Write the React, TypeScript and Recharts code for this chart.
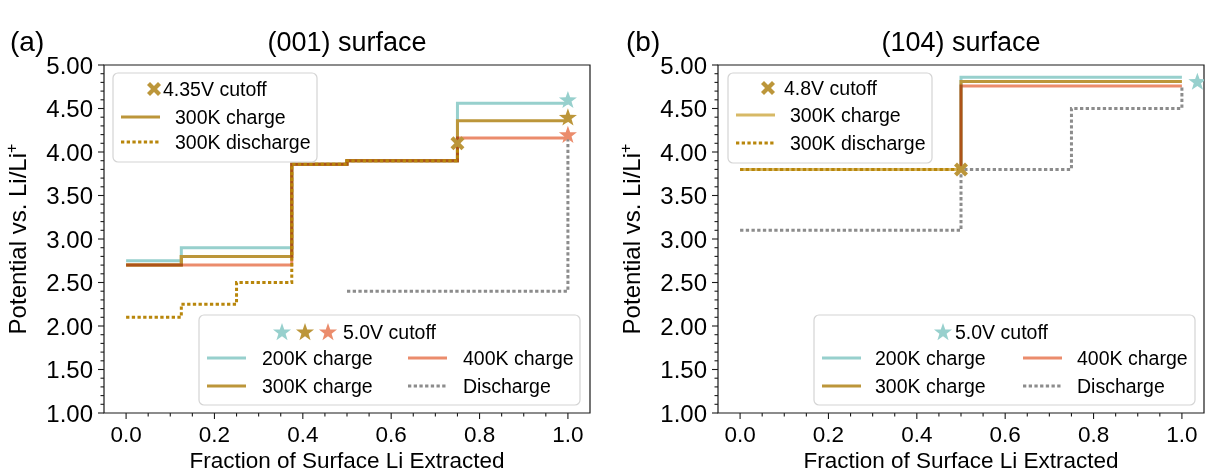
import { ComposedChart, Line, Scatter, XAxis, YAxis, ReferenceArea } from 'recharts';

// colours picked off the figure
const TEAL = '#97D0CD';
const GOLD = '#BC963A';
const SALMON = '#EB8C6C';
const DARK_GOLD = '#B8860B';
const LIGHT_GOLD = '#D7B966';
const GREY = '#8C8C8C';
const FONT = "'Liberation Sans', Arial, Helvetica, sans-serif";

// axis ticks (major ones get labels)
const xTicks = [0, 0.05, 0.1, 0.15, 0.2, 0.25, 0.3, 0.35, 0.4, 0.45, 0.5, 0.55, 0.6, 0.65, 0.7, 0.75, 0.8, 0.85, 0.9, 0.95, 1.0];
const xMajor = [0, 0.2, 0.4, 0.6, 0.8, 1.0];
const yTicks = [
  1.0, 1.1, 1.2, 1.3, 1.4, 1.5, 1.6, 1.7, 1.8, 1.9, 2.0, 2.1, 2.2, 2.3, 2.4, 2.5, 2.6, 2.7, 2.8, 2.9, 3.0,
  3.1, 3.2, 3.3, 3.4, 3.5, 3.6, 3.7, 3.8, 3.9, 4.0, 4.1, 4.2, 4.3, 4.4, 4.5, 4.6, 4.7, 4.8, 4.9, 5.0,
];
const yMajor = [1.0, 1.5, 2.0, 2.5, 3.0, 3.5, 4.0, 4.5, 5.0];

type Pt = { x: number; y: number };

// (001) surface, step points (value holds until the next x)
const charge200K_001: Pt[] = [{ x: 0, y: 2.75 }, { x: 0.125, y: 2.9 }, { x: 0.375, y: 3.86 }, { x: 0.5, y: 3.9 }, { x: 0.75, y: 4.56 }, { x: 1.0, y: 4.56 }];
const charge300K_001: Pt[] = [{ x: 0, y: 2.7 }, { x: 0.125, y: 2.8 }, { x: 0.375, y: 3.86 }, { x: 0.5, y: 3.9 }, { x: 0.75, y: 4.36 }, { x: 1.0, y: 4.36 }];
const charge400K_001: Pt[] = [{ x: 0, y: 2.7 }, { x: 0.375, y: 3.86 }, { x: 0.5, y: 3.9 }, { x: 0.75, y: 4.16 }, { x: 1.0, y: 4.16 }];
const cut435Charge_001: Pt[] = [{ x: 0, y: 2.7 }, { x: 0.125, y: 2.8 }, { x: 0.375, y: 3.86 }, { x: 0.5, y: 3.9 }, { x: 0.75, y: 4.1 }];
const cut435Discharge_001: Pt[] = [{ x: 0, y: 2.1 }, { x: 0.125, y: 2.25 }, { x: 0.25, y: 2.5 }, { x: 0.375, y: 3.86 }, { x: 0.5, y: 3.9 }, { x: 0.75, y: 4.1 }];
const discharge_001: Pt[] = [{ x: 0.5, y: 2.4 }, { x: 1.0, y: 4.15 }];
const star200K_001: Pt[] = [{ x: 1.0, y: 4.61 }];
const star300K_001: Pt[] = [{ x: 1.0, y: 4.41 }];
const star400K_001: Pt[] = [{ x: 1.0, y: 4.21 }];
const cross_001: Pt[] = [{ x: 0.75, y: 4.1 }];

// (104) surface
const charge200K_104: Pt[] = [{ x: 0, y: 3.8 }, { x: 0.5, y: 4.86 }, { x: 1.0, y: 4.86 }];
const charge300K_104: Pt[] = [{ x: 0, y: 3.8 }, { x: 0.5, y: 4.81 }, { x: 1.0, y: 4.81 }];
const charge400K_104: Pt[] = [{ x: 0, y: 3.8 }, { x: 0.5, y: 4.76 }, { x: 1.0, y: 4.76 }];
const cut48Charge_104: Pt[] = [{ x: 0, y: 3.8 }, { x: 0.5, y: 3.8 }];
const cut48Discharge_104: Pt[] = [{ x: 0, y: 3.8 }, { x: 0.5, y: 3.8 }];
const discharge_104: Pt[] = [{ x: 0, y: 3.1 }, { x: 0.5, y: 3.8 }, { x: 0.75, y: 4.5 }, { x: 1.0, y: 4.76 }];
const star200K_104: Pt[] = [{ x: 1.035, y: 4.82 }];
const cross_104: Pt[] = [{ x: 0.5, y: 3.8 }];

const DOTS = '3.3 2.4';
const near = (v: number, list: number[]) => list.some((m) => Math.abs(m - v) < 1e-6);

const starPath = (cx: number, cy: number, r: number) => {
  const pts: string[] = [];
  for (let i = 0; i < 10; i++) {
    const rad = i % 2 === 0 ? r : r * 0.4;
    const a = -Math.PI / 2 + (i * Math.PI) / 5;
    pts.push(`${(cx + rad * Math.cos(a)).toFixed(2)},${(cy + rad * Math.sin(a)).toFixed(2)}`);
  }
  return `M${pts.join('L')}Z`;
};

const Star = ({ cx, cy, color }: { cx: number; cy: number; color: string }) => (
  <path d={starPath(cx, cy + 1.5, 9.5)} fill={color} />
);

const XMark = ({ cx, cy, color }: { cx: number; cy: number; color: string }) => (
  <g stroke={color} strokeWidth={4.2}>
    <line x1={cx - 5.5} y1={cy - 5.5} x2={cx + 5.5} y2={cy + 5.5} />
    <line x1={cx - 5.5} y1={cy + 5.5} x2={cx + 5.5} y2={cy - 5.5} />
  </g>
);

const XTick = (props: any) => {
  const { x, y, payload } = props;
  const major = near(payload.value, xMajor);
  return (
    <g>
      <line x1={x} x2={x} y1={y} y2={y + (major ? 6 : 3.5)} stroke="#1a1a1a" strokeWidth={1.1} />
      {major && (
        <text x={x} y={y + 29} textAnchor="middle" fontSize={22.5} fontFamily={FONT} fill="#000">
          {payload.value.toFixed(1)}
        </text>
      )}
    </g>
  );
};

const YTick = (props: any) => {
  const { x, y, payload } = props;
  const major = near(payload.value, yMajor);
  return (
    <g>
      <line x1={x} x2={x - (major ? 6 : 3.5)} y1={y} y2={y} stroke="#1a1a1a" strokeWidth={1.1} />
      {major && (
        <text x={x - 11} y={y + 8.5} textAnchor="end" fontSize={24} fontFamily={FONT} fill="#000">
          {payload.value.toFixed(2)}
        </text>
      )}
    </g>
  );
};

interface Series { data: Pt[]; color: string; dotted?: boolean; multiply?: boolean }
interface Marker { data: Pt[]; color: string; kind: 'star' | 'x' }

const Panel = ({ left, width, right, series, markers }: { left: number; width: number; right: number; series: Series[]; markers: Marker[] }) => (
  <div style={{ position: 'absolute', left, top: 0 }}>
    <ComposedChart width={width} height={473} margin={{ top: 65, right, left: 0, bottom: 0 }}>
      <XAxis
        type="number"
        dataKey="x"
        domain={[-0.05, 1.05]}
        ticks={xTicks}
        interval={0}
        tick={<XTick />}
        tickLine={false}
        axisLine={false}
        tickSize={0}
        tickMargin={0}
        height={60}
        allowDataOverflow
      />
      <YAxis
        type="number"
        dataKey="y"
        domain={[1, 5]}
        ticks={yTicks}
        interval={0}
        tick={<YTick />}
        tickLine={false}
        axisLine={false}
        tickSize={0}
        tickMargin={0}
        width={104}
        allowDataOverflow
      />
      <ReferenceArea x1={-0.05} x2={1.05} y1={1} y2={5} fill="none" fillOpacity={0} stroke="#1a1a1a" strokeWidth={1.2} />
      {series.map((s, i) => (
        <Line
          key={i}
          data={s.data}
          dataKey="y"
          type="stepAfter"
          stroke={s.color}
          strokeWidth={3}
          strokeDasharray={s.dotted ? DOTS : undefined}
          dot={false}
          activeDot={false}
          className={s.multiply ? 'mul' : undefined}
          isAnimationActive={false}
        />
      ))}
      {markers.map((m, i) => (
        <Scatter
          key={`m${i}`}
          data={m.data}
          isAnimationActive={false}
          shape={(p: any) =>
            m.kind === 'star' ? <Star cx={p.cx} cy={p.cy} color={m.color} /> : <XMark cx={p.cx} cy={p.cy} color={m.color} />
          }
        />
      ))}
    </ComposedChart>
  </div>
);

const LegLine = ({ x, y, color, dotted }: { x: number; y: number; color: string; dotted?: boolean }) => (
  <line x1={x} x2={x + 39} y1={y} y2={y} stroke={color} strokeWidth={3} strokeDasharray={dotted ? DOTS : undefined} />
);

const T = ({ x, y, size = 19.5, anchor = 'start', children }: any) => (
  <text x={x} y={y} fontSize={size} fontFamily={FONT} textAnchor={anchor} fill="#000">
    {children}
  </text>
);

const Box = ({ x, y, w, h }: { x: number; y: number; w: number; h: number }) => (
  <rect x={x} y={y} width={w} height={h} rx={5} fill="#fff" fillOpacity={0.8} stroke="#d4d4d4" strokeWidth={1.2} />
);

const YLabel = ({ x }: { x: number }) => (
  <text transform={`translate(${x},239) rotate(-90)`} textAnchor="middle" fontSize={24} fontFamily={FONT} fill="#000">
    Potential vs. Li/Li<tspan dy={-9} fontSize={16}>+</tspan>
  </text>
);

export default function App() {
  return (
    <div style={{ position: 'absolute', left: 0, top: 0, width: 1207, height: 473, background: '#fff', fontFamily: FONT }}>
      <style>{'.mul{mix-blend-mode:multiply}'}</style>
      <Panel
        left={0}
        width={600}
        right={10}
        series={[
          { data: charge200K_001, color: TEAL },
          { data: charge300K_001, color: GOLD },
          { data: cut435Charge_001, color: GOLD },
          { data: charge400K_001, color: SALMON, multiply: true },
          { data: cut435Discharge_001, color: DARK_GOLD, dotted: true },
          { data: discharge_001, color: GREY, dotted: true },
        ]}
        markers={[
          { data: star200K_001, color: TEAL, kind: 'star' },
          { data: star300K_001, color: GOLD, kind: 'star' },
          { data: star400K_001, color: SALMON, kind: 'star' },
          { data: cross_001, color: GOLD, kind: 'x' },
        ]}
      />
      <Panel
        left={614}
        width={593}
        right={3}
        series={[
          { data: charge200K_104, color: TEAL },
          { data: charge300K_104, color: GOLD },
          { data: charge400K_104, color: SALMON, multiply: true },
          { data: cut48Charge_104, color: LIGHT_GOLD },
          { data: cut48Discharge_104, color: DARK_GOLD, dotted: true },
          { data: discharge_104, color: GREY, dotted: true },
        ]}
        markers={[
          { data: star200K_104, color: TEAL, kind: 'star' },
          { data: cross_104, color: GOLD, kind: 'x' },
        ]}
      />
      <svg width={1207} height={473} style={{ position: 'absolute', left: 0, top: 0, pointerEvents: 'none' }}>
        {/* panel letters and titles */}
        <T x={10} y={51} size={28}>(a)</T>
        <T x={347} y={51} size={27} anchor="middle">(001) surface</T>
        <T x={626} y={51} size={28}>(b)</T>
        <T x={961} y={51} size={27} anchor="middle">(104) surface</T>

        {/* axis labels */}
        <YLabel x={26} />
        <YLabel x={640} />
        <T x={347} y={468} size={22.5} anchor="middle">Fraction of Surface Li Extracted</T>
        <T x={961} y={468} size={22.5} anchor="middle">Fraction of Surface Li Extracted</T>

        {/* (a) upper legend */}
        <Box x={113} y={73} w={204} h={89} />
        <XMark cx={154} cy={89} color={GOLD} />
        <T x={163} y={96}>4.35V cutoff</T>
        <LegLine x={121} y={117} color={GOLD} />
        <T x={175} y={124}>300K charge</T>
        <LegLine x={121} y={142} color={DARK_GOLD} dotted />
        <T x={175} y={149}>300K discharge</T>

        {/* (a) lower legend */}
        <Box x={199} y={315} w={381} h={90} />
        <Star cx={282} cy={331} color={TEAL} />
        <Star cx={305} cy={331} color={GOLD} />
        <Star cx={328} cy={331} color={SALMON} />
        <T x={343} y={339}>5.0V cutoff</T>
        <LegLine x={207} y={358} color={TEAL} />
        <T x={262} y={365}>200K charge</T>
        <LegLine x={207} y={386} color={GOLD} />
        <T x={262} y={393}>300K charge</T>
        <LegLine x={408} y={358} color={SALMON} />
        <T x={463} y={365}>400K charge</T>
        <LegLine x={408} y={386} color={GREY} dotted />
        <T x={463} y={393}>Discharge</T>

        {/* (b) upper legend */}
        <Box x={728} y={73} w={204} h={90} />
        <XMark cx={768} cy={88} color={GOLD} />
        <T x={784} y={95}>4.8V cutoff</T>
        <LegLine x={736} y={115} color={LIGHT_GOLD} />
        <T x={790} y={122}>300K charge</T>
        <LegLine x={736} y={143} color={DARK_GOLD} dotted />
        <T x={790} y={150}>300K discharge</T>

        {/* (b) lower legend */}
        <Box x={814} y={315} w={381} h={90} />
        <Star cx={943} cy={331} color={TEAL} />
        <T x={955} y={339}>5.0V cutoff</T>
        <LegLine x={822} y={358} color={TEAL} />
        <T x={875} y={365}>200K charge</T>
        <LegLine x={822} y={386} color={GOLD} />
        <T x={875} y={393}>300K charge</T>
        <LegLine x={1023} y={358} color={SALMON} />
        <T x={1077} y={365}>400K charge</T>
        <LegLine x={1023} y={386} color={GREY} dotted />
        <T x={1077} y={393}>Discharge</T>
      </svg>
    </div>
  );
}
